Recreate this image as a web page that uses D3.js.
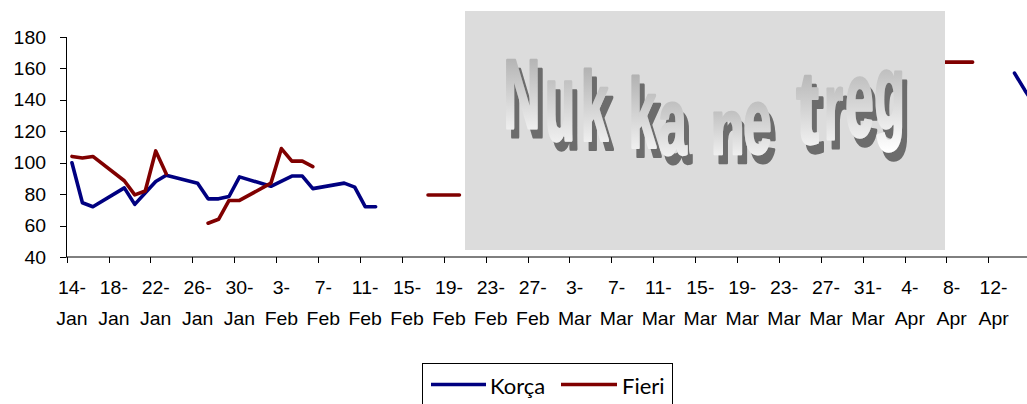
<!DOCTYPE html>
<html>
<head>
<meta charset="utf-8">
<script src="https://cdn.jsdelivr.net/npm/d3@7/dist/d3.min.js"></script>
<style>
  html, body { margin: 0; padding: 0; background: #ffffff; }
  svg { display: block; }
</style>
</head>
<body>
<svg id="chart" width="1027" height="404"></svg>
<script>
// ---------------- DATA ----------------
const year = 2005;
const tickLabels = ["14-Jan","18-Jan","22-Jan","26-Jan","30-Jan","3-Feb","7-Feb","11-Feb","15-Feb","19-Feb","23-Feb","27-Feb","3-Mar","7-Mar","11-Mar","15-Mar","19-Mar","23-Mar","27-Mar","31-Mar","4-Apr","8-Apr","12-Apr"];
const yTicks = [40, 60, 80, 100, 120, 140, 160, 180];

const korcaDates  = ["14-Jan","15-Jan","16-Jan","19-Jan","20-Jan","22-Jan","23-Jan","26-Jan","27-Jan","28-Jan","29-Jan","30-Jan","2-Feb","4-Feb","5-Feb","6-Feb","9-Feb","10-Feb","11-Feb","12-Feb","13-Feb","14-Apr","15-Apr","16-Apr"];
const korcaValues = [100, 74.5, 72, 84, 73.5, 88, 92, 87, 77, 77, 78.5, 91, 85, 91.5, 91.5, 83.5, 87, 84.5, 72, 72, null, 157, 146, 136];

const fieriDates  = ["14-Jan","15-Jan","16-Jan","19-Jan","20-Jan","21-Jan","22-Jan","23-Jan","24-Jan","27-Jan","28-Jan","29-Jan","30-Jan","2-Feb","3-Feb","4-Feb","5-Feb","6-Feb","7-Feb","17-Feb","18-Feb","19-Feb","20-Feb","21-Feb","7-Apr","8-Apr","9-Apr","10-Apr"];
const fieriValues = [104, 103, 104, 88.5, 79.5, 82, 107.5, 93, null, 61.5, 64, 76, 76, 87, 109, 101, 101, 97.5, null, 79.5, 79.5, 79.5, 79.5, null, 164, 164, 164, 164];

const seriesNames = ["Korça", "Fieri"];
const seriesColors = ["#000080", "#800000"];
const annotationText = "Nuk ka ne treg";

// ---------------- SETUP ----------------
const parse = s => d3.utcParse("%d-%b-%Y")(s + "-" + year);
const dayMs = 864e5;
const svg = d3.select("#chart");
svg.append("rect").attr("width", 1027).attr("height", 404).attr("fill", "#fff");

const start = new Date(parse("14-Jan").getTime() - dayMs / 2);
const end = new Date(start.getTime() + 96 * dayMs);
const x = d3.scaleUtc().domain([start, end]).range([66.7, 66.7 + 96 * 10.473]);
const y = d3.scaleLinear().domain([40, 180]).range([257, 37]);

const axisFont = "'Liberation Sans', Arial, Helvetica, sans-serif";
const axisSize = 18;
const axisStretch = 1.08;

// ---------------- Y AXIS ----------------
const gy = svg.append("g");
gy.append("line").attr("x1", 66.5).attr("x2", 66.5).attr("y1", y(180)).attr("y2", y(40))
  .attr("stroke", "#000").attr("stroke-width", 1);
yTicks.forEach(t => {
  gy.append("line").attr("x1", 60).attr("x2", 66.5).attr("y1", Math.round(y(t)) + 0.5).attr("y2", Math.round(y(t)) + 0.5)
    .attr("stroke", "#000").attr("stroke-width", 1);
  gy.append("text").attr("transform", `translate(46,${y(t) + 6.5}) scale(${axisStretch},1)`)
    .attr("text-anchor", "end").attr("font-family", axisFont).attr("font-size", axisSize).attr("fill", "#000")
    .text(t);
});

// ---------------- X AXIS ----------------
const gx = svg.append("g");
gx.append("line").attr("x1", 66.5).attr("x2", 1027).attr("y1", 257).attr("y2", 257)
  .attr("stroke", "#000").attr("stroke-width", 1);
const tickBoundaries = d3.range(0, 24).map(k => new Date(start.getTime() + k * 4 * dayMs));
tickBoundaries.forEach(d => {
  const px = Math.round(x(d)) + 0.5;
  gx.append("line").attr("x1", px).attr("x2", px).attr("y1", 257).attr("y2", 263)
    .attr("stroke", "#000").attr("stroke-width", 1);
});
tickLabels.forEach(lbl => {
  const d = parse(lbl);
  const parts = lbl.split("-");
  const g = gx.append("g").attr("transform", `translate(${x(d)},0)`);
  g.append("text").attr("transform", `translate(0,294) scale(${axisStretch},1)`)
    .attr("text-anchor", "middle").attr("font-family", axisFont).attr("font-size", axisSize).attr("fill", "#000")
    .text(parts[0] + "-");
  g.append("text").attr("transform", `translate(0,325) scale(${axisStretch},1)`)
    .attr("text-anchor", "middle").attr("font-family", axisFont).attr("font-size", axisSize).attr("fill", "#000")
    .text(parts[1]);
});

// ---------------- LINES ----------------
function toPoints(dates, values) {
  return dates.map((s, i) => ({ d: parse(s), v: values[i] }));
}
const line = d3.line().defined(p => p.v != null).x(p => x(p.d)).y(p => y(p.v));
const seriesData = [toPoints(korcaDates, korcaValues), toPoints(fieriDates, fieriValues)];
seriesData.forEach((pts, i) => {
  svg.append("path").datum(pts).attr("d", line)
    .attr("fill", "none").attr("stroke", seriesColors[i]).attr("stroke-width", 3.6)
    .attr("stroke-linejoin", "round").attr("stroke-linecap", "round");
});

// ---------------- ANNOTATION BOX (WordArt) ----------------
const defs = svg.append("defs");
const grad = defs.append("linearGradient").attr("id", "waGrad").attr("x1", 0).attr("y1", 0).attr("x2", 0).attr("y2", 1);
grad.append("stop").attr("offset", "0%").attr("stop-color", "#a4a4a4");
grad.append("stop").attr("offset", "100%").attr("stop-color", "#ffffff");

const filt = defs.append("filter").attr("id", "waShadow").attr("filterUnits", "userSpaceOnUse")
  .attr("x", 465).attr("y", 11).attr("width", 480).attr("height", 239);
filt.append("feOffset").attr("in", "SourceAlpha").attr("dx", 5).attr("dy", 9).attr("result", "off");
filt.append("feFlood").attr("flood-color", "#6c6c6c").attr("result", "fl");
filt.append("feComposite").attr("in", "fl").attr("in2", "off").attr("operator", "in").attr("result", "sh");
filt.append("feMerge").call(m => {
  m.append("feMergeNode").attr("in", "sh");
  m.append("feMergeNode").attr("in", "SourceGraphic");
});

svg.append("rect").attr("x", 465).attr("y", 11).attr("width", 480).attr("height", 239).attr("fill", "#dcdcdc");

// letter layout: centre x, baseline, horizontal scale, vertical scale
const waLayout = [
  [522, 128, 1.02, 1.98], [560, 140, 0.98, 2.20], [594.5, 140, 0.98, 1.98], null,
  [642.5, 147, 0.98, 1.96], [672.5, 154, 1.02, 1.88], null,
  [727.5, 154, 1.12, 1.55], [757.5, 153, 1.02, 1.84], null,
  [807.5, 143, 1.35, 2.05], [833.5, 139, 0.98, 1.88], [859.5, 136, 1.02, 2.15], [889.5, 129, 1.0, 2.10]
];
const waG = svg.append("g").attr("filter", "url(#waShadow)")
  .attr("font-family", "'Liberation Sans', Arial, sans-serif")
  .attr("font-weight", "bold").attr("font-size", 50).attr("text-anchor", "middle");
annotationText.split("").forEach((ch, i) => {
  const L = waLayout[i];
  if (!L) return;
  waG.append("text").attr("transform", `translate(${L[0]},${L[1]}) scale(${L[2]},${L[3]})`)
    .attr("fill", "url(#waGrad)").attr("stroke", "url(#waGrad)").attr("stroke-width", 1.6)
    .attr("stroke-linejoin", "round").text(ch);
});

// ---------------- LEGEND ----------------
const lg = svg.append("g");
lg.append("rect").attr("x", 422.5).attr("y", 363.5).attr("width", 250).attr("height", 50)
  .attr("fill", "#fff").attr("stroke", "#000").attr("stroke-width", 1);
const legendItems = [
  { x1: 431, x2: 486, tx: 490 },
  { x1: 561, x2: 617, tx: 622 }
];
legendItems.forEach((it, i) => {
  lg.append("line").attr("x1", it.x1).attr("x2", it.x2).attr("y1", 384.5).attr("y2", 384.5)
    .attr("stroke", seriesColors[i]).attr("stroke-width", 3.6);
  lg.append("text").attr("x", it.tx).attr("y", 393.5).attr("font-family", "Lato, 'Open Sans', sans-serif")
    .attr("font-size", 22).attr("fill", "#000").text(seriesNames[i]);
});
</script>
</body>
</html>
